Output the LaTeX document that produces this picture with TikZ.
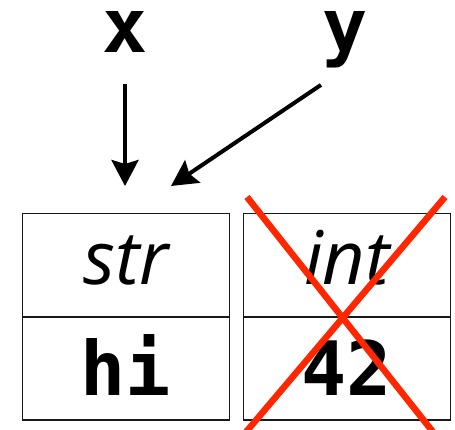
\documentclass[tikz,border=0pt]{standalone}
\usepackage{fontspec}
\setmonofont{DejaVu Sans Mono}
\newfontfamily\typefont{Open Sans}
\usepackage{tikz}
\usetikzlibrary{arrows.meta,positioning}
\tikzset{
  cell/.style={draw=black!90, line width=1.6pt, minimum width=207pt, minimum height=103.3pt, inner sep=0pt, outer sep=0pt},
  typecell/.style={cell, text height=39.4pt, text depth=0pt, font=\typefont\itshape\fontsize{74}{80}\selectfont},
  valcell/.style={cell, text height=53pt, text depth=0pt, font=\ttfamily\bfseries\fontsize{75}{80}\selectfont},
  var/.style={inner sep=0pt, anchor=base, font=\ttfamily\bfseries\fontsize{75}{80}\selectfont},
  arr/.style={-{Stealth[length=26pt, width=27pt, inset=4pt]}, line width=4pt},
  cross/.style={line width=6.5pt, draw=xred}
}
\definecolor{xred}{RGB}{255,38,0}

\begin{document}
\begin{tikzpicture}[x=1pt, y=-1pt]
  \useasboundingbox (0,0) rectangle (455,430);
  % objects
  \node[typecell] (strcell) at (126,265.3) {str};
  \node[valcell, below=0pt of strcell] (hicell) {hi};
  \node[typecell, right=14pt of strcell] (intcell) {int};
  \node[valcell, below=0pt of intcell] (numcell) {42};
  % names
  \node[var] (xlbl) at (125,53) {x};
  \node[var] (ylbl) at (345,53) {y};
  \coordinate (xend) at (125,186);
  \coordinate (yend) at (171,186);
  \draw[arr, shorten <=31pt] (xlbl.south) -- (xend);
  \draw[arr, shorten <=29pt] (ylbl.south) -- (yend);
  % garbage collected
  \draw[cross] (247,197) -- (433,432);
  \draw[cross] (445,197) -- (246,432);
\end{tikzpicture}
\end{document}
